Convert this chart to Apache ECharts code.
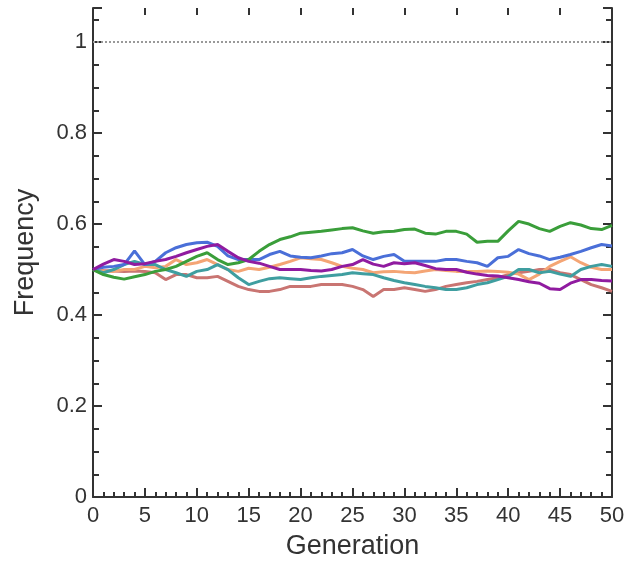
<!DOCTYPE html>
<html>
<head>
<meta charset="utf-8">
<script src="https://cdn.jsdelivr.net/npm/echarts@6/dist/echarts.min.js"></script>
<style>
  html, body { margin: 0; padding: 0; background: #fff; }
  #chart { width: 631px; height: 566px; }
</style>
</head>
<body>
<div id="chart"></div>
<script>
// generations 0..50
const generations = Array.from({ length: 51 }, (_, i) => i);

const redFreq = [0.50, 0.498, 0.497, 0.496, 0.497, 0.496, 0.493, 0.478, 0.489, 0.489,
  0.482, 0.482, 0.485, 0.474, 0.463, 0.456, 0.452, 0.452, 0.456, 0.463,
  0.463, 0.463, 0.467, 0.467, 0.467, 0.463, 0.456, 0.441, 0.456, 0.456,
  0.460, 0.456, 0.452, 0.456, 0.463, 0.467, 0.471, 0.474, 0.478, 0.482,
  0.489, 0.493, 0.496, 0.500, 0.500, 0.493, 0.489, 0.478, 0.467, 0.460, 0.452];

const orangeFreq = [0.50, 0.497, 0.496, 0.500, 0.500, 0.507, 0.504, 0.507, 0.522, 0.511,
  0.515, 0.522, 0.511, 0.500, 0.496, 0.503, 0.500, 0.505, 0.511, 0.518,
  0.526, 0.524, 0.522, 0.515, 0.507, 0.503, 0.500, 0.493, 0.495, 0.496,
  0.494, 0.493, 0.497, 0.500, 0.498, 0.496, 0.496, 0.496, 0.497, 0.496,
  0.494, 0.490, 0.478, 0.490, 0.507, 0.518, 0.528, 0.515, 0.505, 0.500, 0.500];

const tealFreq = [0.50, 0.493, 0.500, 0.511, 0.518, 0.511, 0.511, 0.500, 0.493, 0.485,
  0.496, 0.500, 0.511, 0.500, 0.482, 0.467, 0.474, 0.480, 0.482, 0.480,
  0.478, 0.482, 0.485, 0.487, 0.489, 0.493, 0.491, 0.489, 0.482, 0.476,
  0.471, 0.467, 0.463, 0.460, 0.456, 0.456, 0.460, 0.467, 0.471, 0.478,
  0.485, 0.500, 0.500, 0.493, 0.496, 0.490, 0.485, 0.500, 0.507, 0.511, 0.507];

const blueFreq = [0.50, 0.505, 0.507, 0.511, 0.541, 0.511, 0.518, 0.537, 0.548, 0.555,
  0.559, 0.560, 0.551, 0.530, 0.522, 0.522, 0.522, 0.533, 0.540, 0.530,
  0.527, 0.526, 0.530, 0.535, 0.537, 0.544, 0.530, 0.522, 0.529, 0.533,
  0.518, 0.518, 0.518, 0.518, 0.522, 0.522, 0.518, 0.515, 0.507, 0.526,
  0.529, 0.544, 0.535, 0.530, 0.522, 0.527, 0.533, 0.540, 0.548, 0.555, 0.552];

const greenFreq = [0.50, 0.489, 0.483, 0.479, 0.484, 0.489, 0.496, 0.500, 0.507, 0.518,
  0.529, 0.537, 0.522, 0.511, 0.515, 0.522, 0.540, 0.555, 0.566, 0.572,
  0.580, 0.582, 0.584, 0.587, 0.590, 0.592, 0.585, 0.580, 0.583, 0.584,
  0.588, 0.589, 0.580, 0.578, 0.584, 0.584, 0.578, 0.560, 0.562, 0.562,
  0.585, 0.606, 0.600, 0.590, 0.584, 0.595, 0.603, 0.598, 0.590, 0.588, 0.597];

const purpleFreq = [0.50, 0.512, 0.522, 0.518, 0.511, 0.513, 0.518, 0.522, 0.529, 0.537,
  0.544, 0.551, 0.555, 0.540, 0.526, 0.518, 0.514, 0.507, 0.500, 0.500,
  0.500, 0.498, 0.497, 0.500, 0.507, 0.511, 0.522, 0.512, 0.507, 0.515,
  0.513, 0.515, 0.509, 0.502, 0.500, 0.500, 0.494, 0.490, 0.487, 0.486,
  0.482, 0.478, 0.473, 0.470, 0.458, 0.456, 0.470, 0.478, 0.478, 0.476, 0.475];

const fixationLevel = 1;

const lines = [
  { data: redFreq, color: '#c97572' },
  { data: orangeFreq, color: '#f4a575' },
  { data: tealFreq, color: '#3f9ea0' },
  { data: blueFreq, color: '#4a6fd8' },
  { data: greenFreq, color: '#3a9e3a' },
  { data: purpleFreq, color: '#901ba0' },
];

const font = '"Liberation Sans", Arial, sans-serif';
const axisColor = '#333';

const chart = echarts.init(document.getElementById('chart'));

const series = lines.map(l => ({
  type: 'line',
  data: generations.map((g, i) => [g, l.data[i]]),
  showSymbol: false,
  lineStyle: { color: l.color, width: 3 },
  itemStyle: { color: l.color },
  animation: false,
}));

series[0].markLine = {
  silent: true,
  symbol: 'none',
  label: { show: false },
  lineStyle: { color: '#999', type: 'dotted', width: 2 },
  data: [{ yAxis: fixationLevel }],
};

chart.setOption({
  backgroundColor: '#fff',
  animation: false,
  grid: { left: 93, right: 19, top: 8, bottom: 69 },
  xAxis: [
    {
      type: 'value',
      min: 0,
      max: 50,
      interval: 5,
      name: 'Generation',
      nameLocation: 'middle',
      nameGap: 36,
      nameTextStyle: { fontFamily: font, fontSize: 27, color: axisColor },
      axisLine: { onZero: false, lineStyle: { color: axisColor, width: 2 } },
      axisTick: { inside: true, length: 9, lineStyle: { color: axisColor, width: 2 } },
      minorTick: { show: true, splitNumber: 5, length: 5, lineStyle: { color: axisColor, width: 2 } },
      axisLabel: { fontFamily: font, fontSize: 22, color: axisColor, margin: 8 },
      splitLine: { show: false },
    },
    {
      type: 'value',
      position: 'top',
      min: 0,
      max: 50,
      interval: 5,
      axisLine: { show: true, onZero: false, lineStyle: { color: 'rgba(0,0,0,0)', width: 0 } },
      axisTick: { show: true, inside: true, length: 7, lineStyle: { color: axisColor, width: 2 } },
      axisLabel: { show: false },
      splitLine: { show: false },
    },
  ],
  yAxis: [
    {
      type: 'value',
      min: 0,
      max: 1.075,
      interval: 0.2,
      name: 'Frequency',
      nameLocation: 'middle',
      nameGap: 54,
      nameTextStyle: { fontFamily: font, fontSize: 27, color: axisColor },
      axisLine: { show: true, onZero: false, lineStyle: { color: axisColor, width: 2 } },
      axisTick: { show: true, inside: true, length: 9, lineStyle: { color: axisColor, width: 2 } },
      minorTick: { show: true, splitNumber: 4, length: 6, lineStyle: { color: axisColor, width: 2 } },
      axisLabel: { fontFamily: font, fontSize: 22, color: axisColor, margin: 6, showMaxLabel: false },
      splitLine: { show: false },
    },
    {
      type: 'value',
      position: 'right',
      min: 0,
      max: 1.075,
      interval: 0.2,
      axisLine: { show: true, onZero: false, lineStyle: { color: axisColor, width: 2 } },
      axisTick: { show: true, inside: true, length: 9, lineStyle: { color: axisColor, width: 2 } },
      minorTick: { show: true, splitNumber: 4, length: 6, lineStyle: { color: axisColor, width: 2 } },
      axisLabel: { show: false },
      splitLine: { show: false },
    },
  ],
  series,
});
</script>
</body>
</html>
